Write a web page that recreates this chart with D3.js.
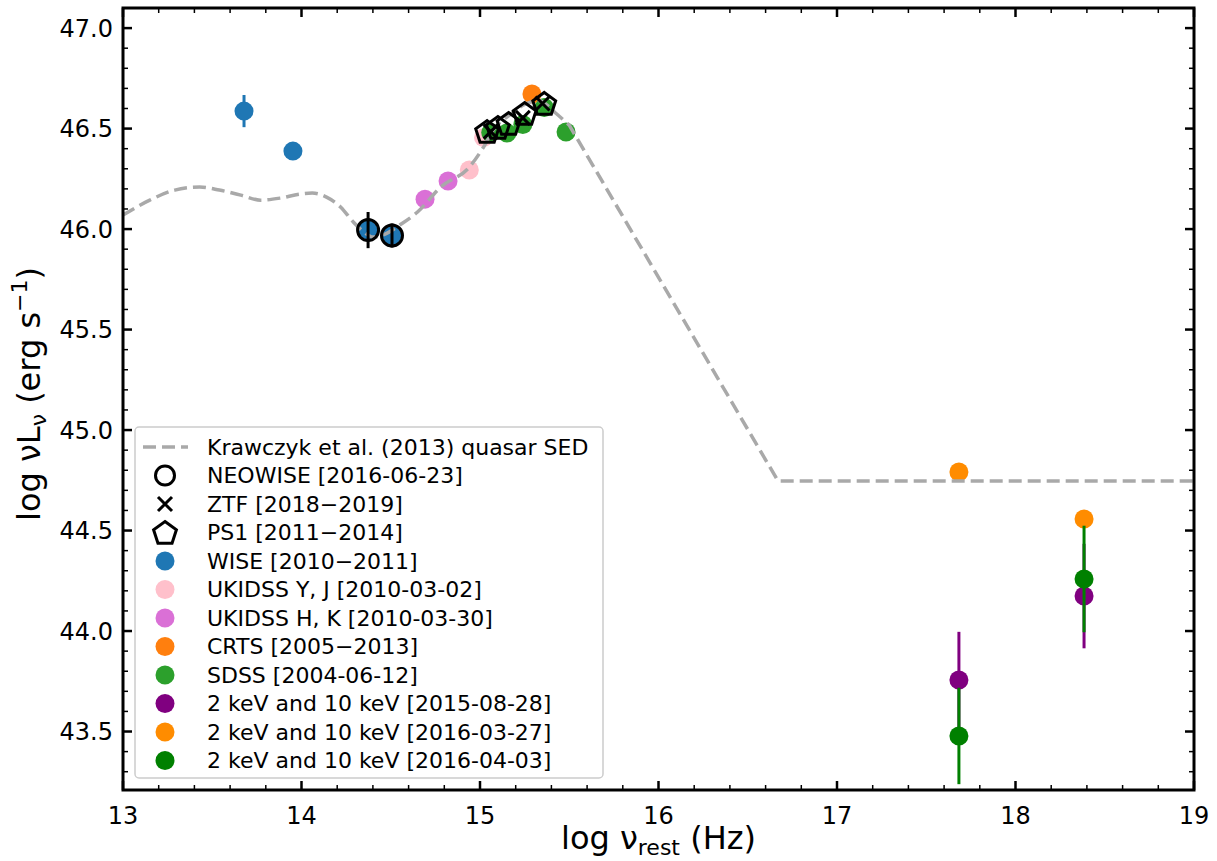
<!DOCTYPE html>
<html>
<head>
<meta charset="utf-8">
<script src="https://cdn.jsdelivr.net/npm/d3@7"></script>
<style>
  body { margin: 0; background: #fff; }
  text { font-family: "DejaVu Sans", sans-serif; fill: #000; }
</style>
</head>
<body>
<div id="chart"></div>
<script>
// Krawczyk et al. (2013) quasar SED
// smooth IR/optical part, then the straight UV-to-X-ray part
var sedX = [13.0, 13.15, 13.29, 13.43, 13.54, 13.66, 13.77, 13.88, 13.99, 14.06, 14.14, 14.22, 14.29, 14.35, 14.40, 14.48, 14.55, 14.65, 14.78, 14.94, 15.02, 15.08, 15.17, 15.25, 15.33, 15.42, 15.50];
var sedY = [46.07, 46.144, 46.194, 46.209, 46.194, 46.169, 46.144, 46.154, 46.174, 46.179, 46.159, 46.109, 46.035, 45.985, 45.96, 45.98, 46.02, 46.085, 46.209, 46.308, 46.408, 46.50, 46.57, 46.62, 46.64, 46.58, 46.517];
var sedTailX = [15.50, 16.67, 19.0];
var sedTailY = [46.517, 44.746, 44.746];

// photometry
var wiseX = [13.678, 13.952, 14.373, 14.507];
var wiseY = [46.587, 46.388, 45.995, 45.968];
var wiseErr = [0.08, 0, 0, 0];

var neowiseX = [14.373, 14.507];
var neowiseY = [45.995, 45.968];
var neowiseErr = [0.09, 0.06];

var ukidssYJX = [14.94, 15.02];
var ukidssYJY = [46.294, 46.455];
var ukidssHKX = [14.692, 14.821];
var ukidssHKY = [46.149, 46.239];

var crtsX = [15.291];
var crtsY = [46.672];

var sdssX = [15.06, 15.151, 15.24, 15.36, 15.482];
var sdssY = [46.48, 46.478, 46.52, 46.605, 46.483];

var ztfX = [15.06, 15.24, 15.35];
var ztfY = [46.485, 46.553, 46.625];

var ps1X = [15.04, 15.10, 15.16, 15.25, 15.36];
var ps1Y = [46.48, 46.50, 46.52, 46.57, 46.62];

// X-ray: 2 keV and 10 keV
var xrayX = [17.683, 18.384];
var xray1Y = [43.756, 44.174]; // 2015-08-28
var xray1Err = [0.24, 0.26];
var xray2Y = [44.791, 44.557]; // 2016-03-27
var xray2Err = [0, 0];
var xray3Y = [43.478, 44.259]; // 2016-04-03
var xray3Err = [0.24, 0.265];

var legendLabels = [
  "Krawczyk et al. (2013) quasar SED",
  "NEOWISE [2016-06-23]",
  "ZTF [2018\u22122019]",
  "PS1 [2011\u22122014]",
  "WISE [2010\u22122011]",
  "UKIDSS Y, J [2010-03-02]",
  "UKIDSS H, K [2010-03-30]",
  "CRTS [2005\u22122013]",
  "SDSS [2004-06-12]",
  "2 keV and 10 keV [2015-08-28]",
  "2 keV and 10 keV [2016-03-27]",
  "2 keV and 10 keV [2016-04-03]"
];

var xTicks = [13, 14, 15, 16, 17, 18, 19];
var yTicks = [43.5, 44.0, 44.5, 45.0, 45.5, 46.0, 46.5, 47.0];

var W = 1217, H = 861;
var pl = 123, pr = 1194, pt = 8, pb = 790;

var x = d3.scaleLinear().domain([13, 19]).range([pl, pr]);
var y = d3.scaleLinear().domain([43.209, 47.1]).range([pb, pt]);

var svg = d3.select("#chart").append("svg")
  .attr("width", W)
  .attr("height", H);

var plot = svg.append("g");

// custom marker shapes
var pentagon = {
  draw: function(ctx, size) {
    var r = Math.sqrt(size);
    for (var i = 0; i < 5; i++) {
      var a = -Math.PI / 2 + i * 2 * Math.PI / 5;
      if (i === 0) ctx.moveTo(r * Math.cos(a), r * Math.sin(a));
      else ctx.lineTo(r * Math.cos(a), r * Math.sin(a));
    }
    ctx.closePath();
  }
};
var cross = {
  draw: function(ctx, size) {
    var r = Math.sqrt(size);
    ctx.moveTo(-r, -r); ctx.lineTo(r, r);
    ctx.moveTo(-r, r); ctx.lineTo(r, -r);
  }
};

function zip(xs, ys, es) {
  return xs.map(function(d, i) { return {x: d, y: ys[i], e: es ? es[i] : 0}; });
}

function errorBars(data, color, width) {
  plot.append("g").selectAll("line")
    .data(data.filter(function(d) { return d.e > 0; }))
    .join("line")
    .attr("x1", function(d) { return x(d.x); })
    .attr("x2", function(d) { return x(d.x); })
    .attr("y1", function(d) { return y(d.y - d.e); })
    .attr("y2", function(d) { return y(d.y + d.e); })
    .attr("stroke", color)
    .attr("stroke-width", width);
}

function dots(data, color, r) {
  plot.append("g").selectAll("circle")
    .data(data)
    .join("circle")
    .attr("cx", function(d) { return x(d.x); })
    .attr("cy", function(d) { return y(d.y); })
    .attr("r", r)
    .attr("fill", color);
}

var cBlue = "#1f77b4", cPink = "#ffc0cb", cOrchid = "#da70d6", cOrange = "#ff7f0e",
    cGreen = "#2ca02c", cPurple = "#800080", cDarkOrange = "#ff8c00", cDarkGreen = "#008000";

// colored points
var wise = zip(wiseX, wiseY, wiseErr);
errorBars(wise, cBlue, 3);
dots(wise, cBlue, 9.5);
dots(zip(ukidssYJX, ukidssYJY), cPink, 9.5);
dots(zip(ukidssHKX, ukidssHKY), cOrchid, 9.5);
dots(zip(crtsX, crtsY), cOrange, 9.5);
dots(zip(sdssX, sdssY), cGreen, 9.5);

var x1 = zip(xrayX, xray1Y, xray1Err);
errorBars(x1, cPurple, 3);
dots(x1, cPurple, 9.5);
var x2 = zip(xrayX, xray2Y, xray2Err);
dots(x2, cDarkOrange, 9.5);
var x3 = zip(xrayX, xray3Y, xray3Err);
errorBars(x3, cDarkGreen, 3);
dots(x3, cDarkGreen, 9.5);

// SED line: smooth head + straight tail in one path so the dashes run on
var smooth = d3.line()
  .x(function(d) { return x(d.x); })
  .y(function(d) { return y(d.y); })
  .curve(d3.curveMonotoneX);
var straight = d3.line()
  .x(function(d) { return x(d.x); })
  .y(function(d) { return y(d.y); });

var sedPath = smooth(zip(sedX, sedY)) + straight(zip(sedTailX, sedTailY).slice(1)).replace(/^M/, "L");

plot.append("path")
  .attr("d", sedPath)
  .attr("fill", "none")
  .attr("stroke", "#a9a9a9")
  .attr("stroke-width", 3.5)
  .attr("stroke-dasharray", "13,6");

// open black markers
var nw = zip(neowiseX, neowiseY, neowiseErr);
errorBars(nw, "#000", 3);
plot.append("g").selectAll("circle")
  .data(nw)
  .join("circle")
  .attr("cx", function(d) { return x(d.x); })
  .attr("cy", function(d) { return y(d.y); })
  .attr("r", 10.5)
  .attr("fill", "none")
  .attr("stroke", "#000")
  .attr("stroke-width", 3);

plot.append("g").selectAll("path")
  .data(zip(ps1X, ps1Y))
  .join("path")
  .attr("transform", function(d) { return "translate(" + x(d.x) + "," + y(d.y) + ")"; })
  .attr("d", d3.symbol().type(pentagon).size(144))
  .attr("fill", "none")
  .attr("stroke", "#000")
  .attr("stroke-width", 3)
  .attr("stroke-linejoin", "miter");

plot.append("g").selectAll("path")
  .data(zip(ztfX, ztfY))
  .join("path")
  .attr("transform", function(d) { return "translate(" + x(d.x) + "," + y(d.y) + ")"; })
  .attr("d", d3.symbol().type(cross).size(49))
  .attr("fill", "none")
  .attr("stroke", "#000")
  .attr("stroke-width", 3);

// axes frame and ticks (inward, all four sides)
var axes = svg.append("g");

function tickLines(vals, isX, len, w) {
  vals.forEach(function(v) {
    if (isX) {
      axes.append("line").attr("x1", x(v)).attr("x2", x(v)).attr("y1", pb).attr("y2", pb - len)
        .attr("stroke", "#000").attr("stroke-width", w);
      axes.append("line").attr("x1", x(v)).attr("x2", x(v)).attr("y1", pt).attr("y2", pt + len)
        .attr("stroke", "#000").attr("stroke-width", w);
    } else {
      axes.append("line").attr("y1", y(v)).attr("y2", y(v)).attr("x1", pl).attr("x2", pl + len)
        .attr("stroke", "#000").attr("stroke-width", w);
      axes.append("line").attr("y1", y(v)).attr("y2", y(v)).attr("x1", pr).attr("x2", pr - len)
        .attr("stroke", "#000").attr("stroke-width", w);
    }
  });
}

var xMinor = d3.range(13, 19.001, 0.2).filter(function(v) { return Math.abs(v - Math.round(v)) > 1e-6; });
var yMinor = d3.range(43.3, 47.1, 0.1).filter(function(v) { return Math.abs(v * 2 - Math.round(v * 2)) > 1e-6; });

tickLines(xMinor, true, 5, 1.5);
tickLines(yMinor, false, 5, 1.5);
tickLines(xTicks, true, 9, 2.5);
tickLines(yTicks, false, 9, 2.5);

axes.append("rect")
  .attr("x", pl).attr("y", pt)
  .attr("width", pr - pl).attr("height", pb - pt)
  .attr("fill", "none")
  .attr("stroke", "#000")
  .attr("stroke-width", 3);

axes.selectAll("text.xt")
  .data(xTicks)
  .join("text")
  .attr("class", "xt")
  .attr("x", function(d) { return x(d); })
  .attr("y", pb + 34)
  .attr("text-anchor", "middle")
  .attr("font-size", 24)
  .text(function(d) { return d; });

axes.selectAll("text.yt")
  .data(yTicks)
  .join("text")
  .attr("class", "yt")
  .attr("x", pl - 10)
  .attr("y", function(d) { return y(d); })
  .attr("dy", "0.36em")
  .attr("text-anchor", "end")
  .attr("font-size", 24)
  .text(function(d) { return d.toFixed(1); });

// axis labels
var xl = svg.append("text")
  .attr("x", (pl + pr) / 2)
  .attr("y", 849)
  .attr("text-anchor", "middle")
  .attr("font-size", 32);
xl.append("tspan").text("log \u03bd");
xl.append("tspan").attr("font-size", 22).attr("dy", 6).text("rest");
xl.append("tspan").attr("dy", -6).text(" (Hz)");

var yl = svg.append("text")
  .attr("transform", "translate(40," + ((pt + pb) / 2 - 5) + ") rotate(-90)")
  .attr("text-anchor", "middle")
  .attr("font-size", 32);
yl.append("tspan").text("log \u03bdL");
yl.append("tspan").attr("font-size", 22).attr("dy", 6).text("\u03bd");
yl.append("tspan").attr("dy", -6).text(" (erg s");
yl.append("tspan").attr("font-size", 22).attr("dy", -13).text("\u22121");
yl.append("tspan").attr("dy", 13).text(")");

// legend
var lg = svg.append("g");
lg.append("rect")
  .attr("x", 135).attr("y", 427)
  .attr("width", 468).attr("height", 351)
  .attr("rx", 4)
  .attr("fill", "#fff").attr("fill-opacity", 0.8)
  .attr("stroke", "#cccccc").attr("stroke-width", 1.5);

var legendKinds = ["sed", "neowise", "ztf", "ps1", cBlue, cPink, cOrchid, cOrange, cGreen, cPurple, cDarkOrange, cDarkGreen];
var rowY = function(i) { return 447 + i * 28.5; };
var mx = 165;

legendKinds.forEach(function(k, i) {
  var yy = rowY(i);
  if (k === "sed") {
    lg.append("line").attr("x1", 143).attr("x2", 188).attr("y1", yy).attr("y2", yy)
      .attr("stroke", "#a9a9a9").attr("stroke-width", 3.5).attr("stroke-dasharray", "13,6");
  } else if (k === "neowise") {
    lg.append("circle").attr("cx", mx).attr("cy", yy).attr("r", 9.5)
      .attr("fill", "none").attr("stroke", "#000").attr("stroke-width", 3);
  } else if (k === "ztf") {
    lg.append("path").attr("transform", "translate(" + mx + "," + yy + ")")
      .attr("d", d3.symbol().type(cross).size(49))
      .attr("stroke", "#000").attr("stroke-width", 3).attr("fill", "none");
  } else if (k === "ps1") {
    lg.append("path").attr("transform", "translate(" + mx + "," + (yy + 1) + ")")
      .attr("d", d3.symbol().type(pentagon).size(144))
      .attr("stroke", "#000").attr("stroke-width", 3).attr("fill", "none");
  } else {
    lg.append("circle").attr("cx", mx).attr("cy", yy).attr("r", 9.5).attr("fill", k);
  }
  lg.append("text")
    .attr("x", 207).attr("y", yy)
    .attr("dy", "0.36em")
    .attr("font-size", 22)
    .text(legendLabels[i]);
});
</script>
</body>
</html>
